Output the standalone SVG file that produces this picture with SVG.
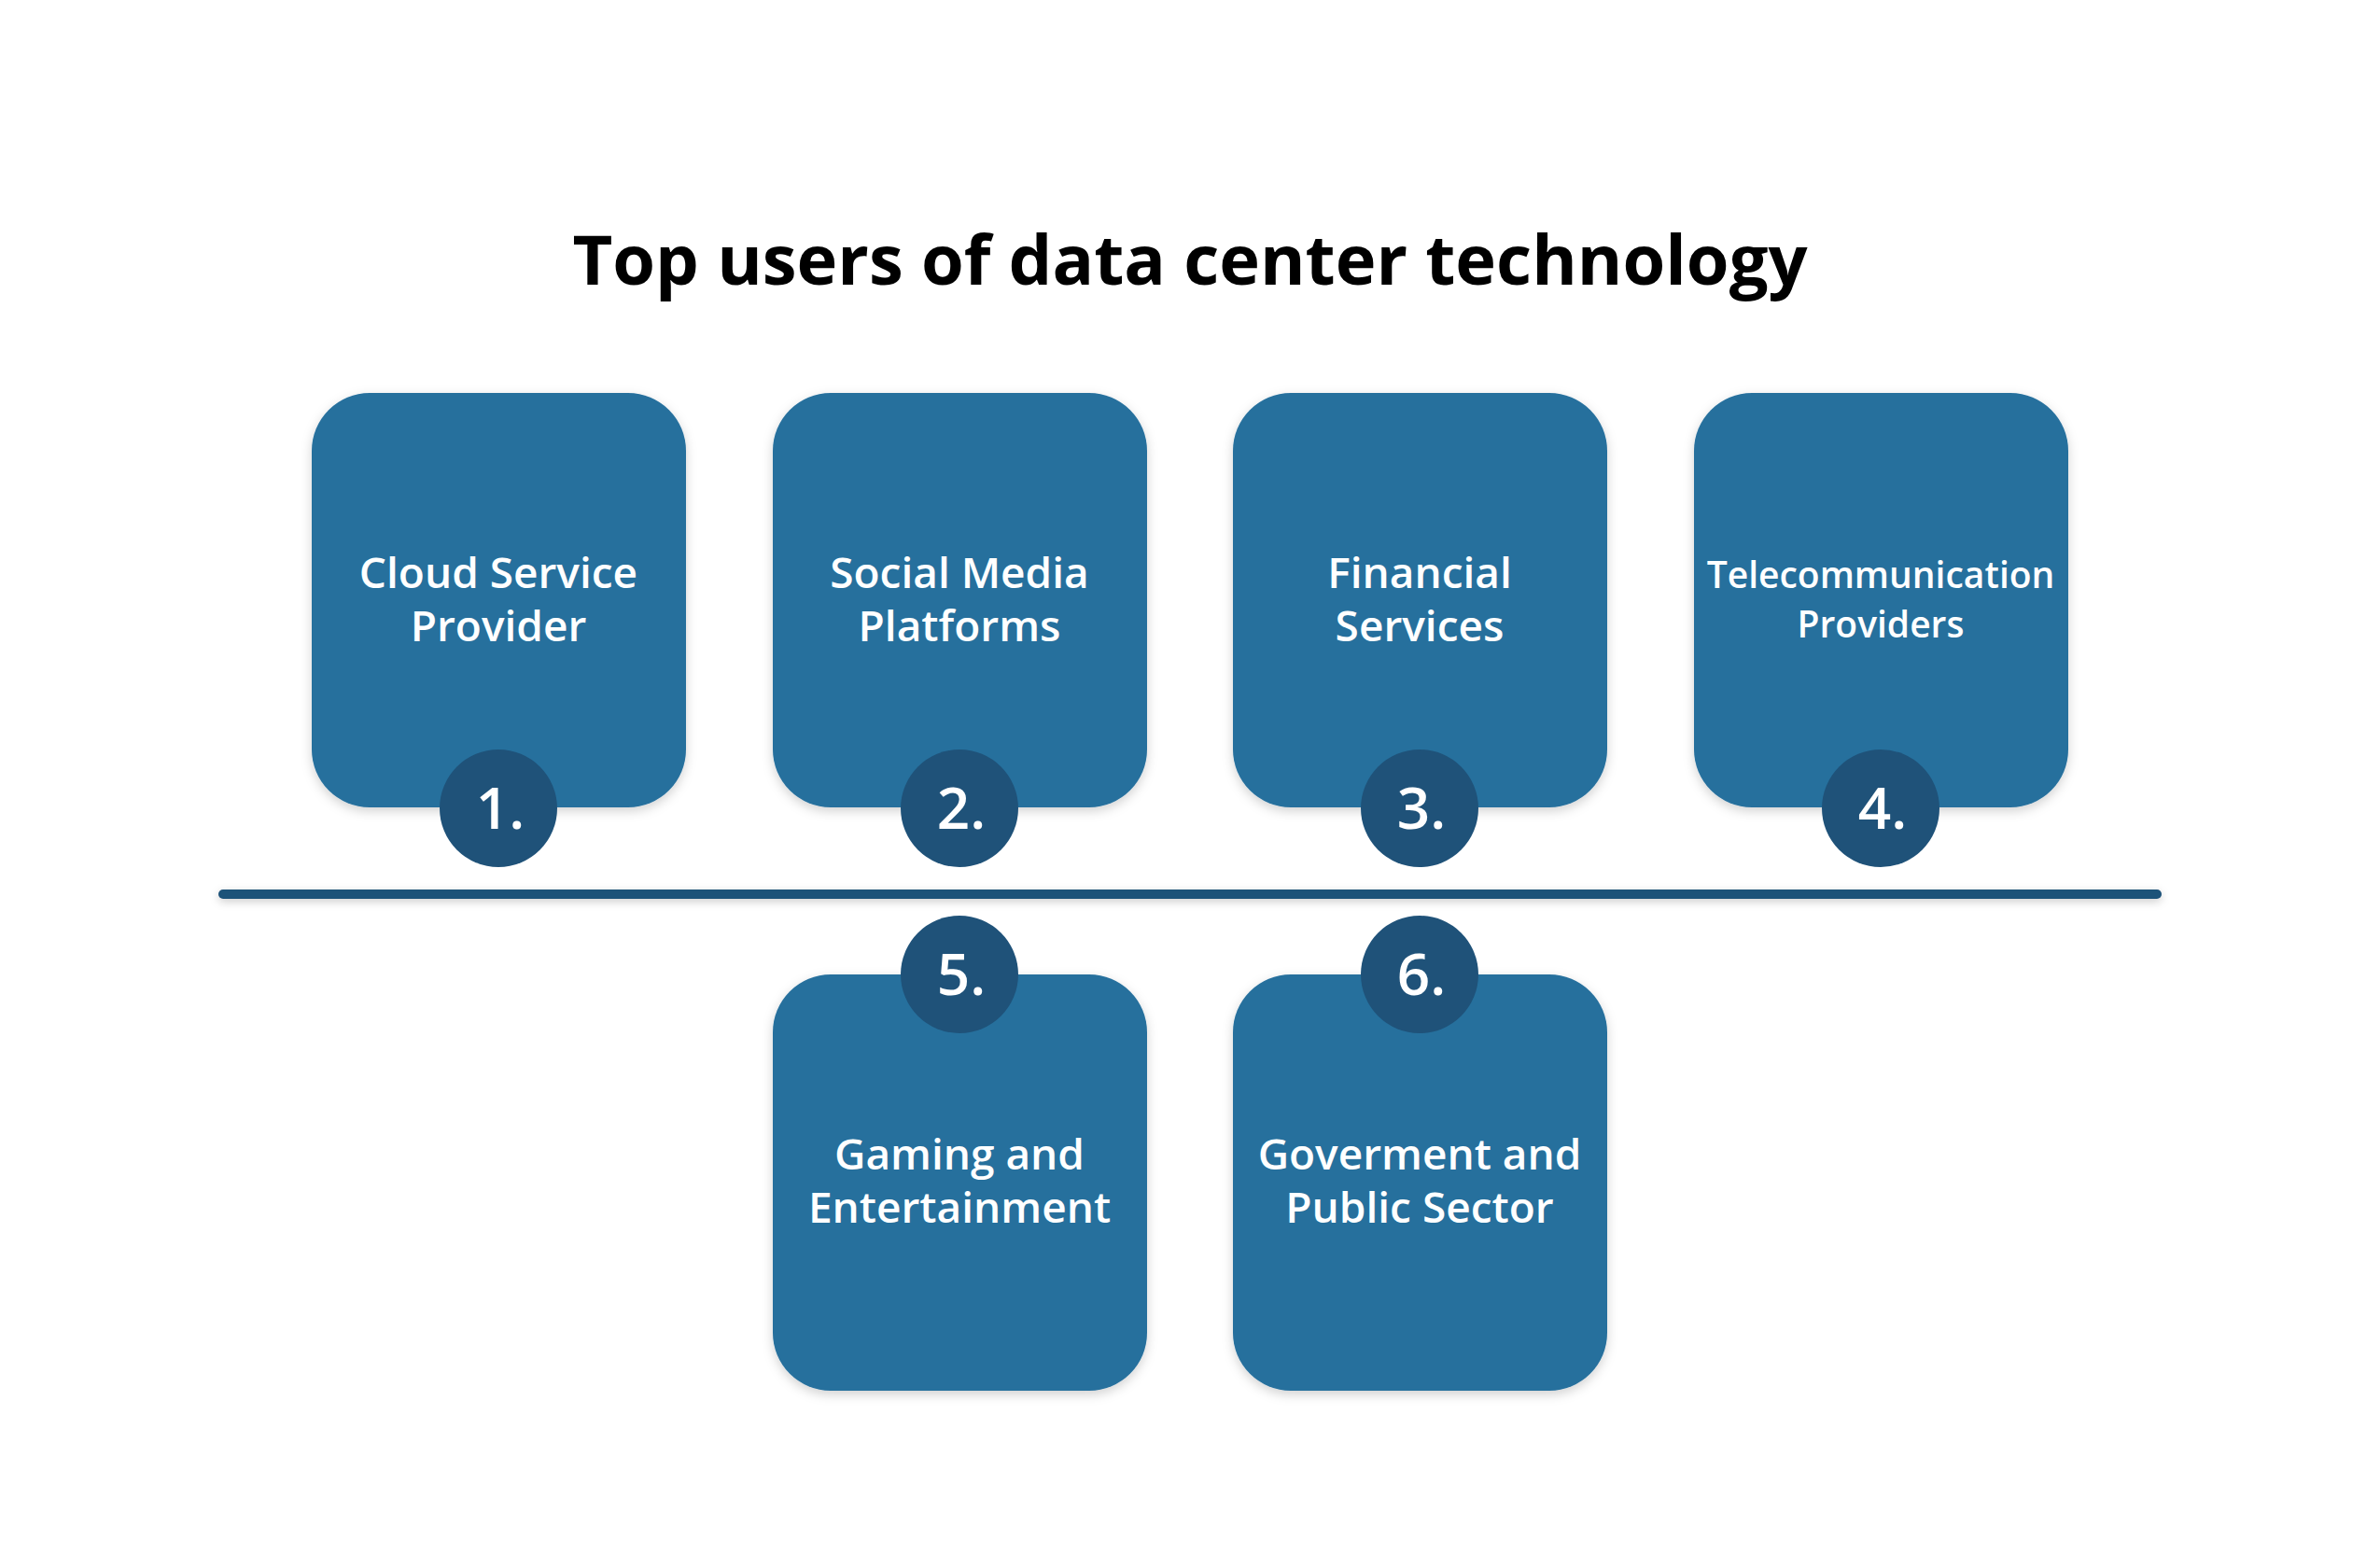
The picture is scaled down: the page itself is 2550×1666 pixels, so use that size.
<svg xmlns="http://www.w3.org/2000/svg" width="2550" height="1666" viewBox="0 0 2550 1666">
<defs>
<filter id="sh" x="-10%" y="-10%" width="120%" height="120%">
<feDropShadow dx="0" dy="4" stdDeviation="6" flood-color="#000" flood-opacity="0.18"/>
</filter>
<filter id="lsh" filterUnits="userSpaceOnUse" x="200" y="930" width="2150" height="60">
<feDropShadow dx="0" dy="3" stdDeviation="5" flood-color="#000" flood-opacity="0.2"/>
</filter>
<style>
.box{fill:#27709D;filter:url(#sh);}
.num{fill:#1F5279;}
.lbl{font-family:"Open Sans","Noto Sans",sans-serif;font-weight:600;fill:#fff;text-anchor:middle;font-size:46px;}
.sm{font-size:39px;}
.n{font-family:"Open Sans","Noto Sans",sans-serif;font-weight:600;fill:#fff;text-anchor:middle;font-size:62px;}
.title{font-family:"Open Sans","Noto Sans",sans-serif;font-weight:700;fill:#000;text-anchor:middle;font-size:74px;}
</style>
</defs>
<rect width="2550" height="1666" fill="#fff"/>
<text class="title" x="1275" y="305">Top users of data center technology</text>
<g id="connectors">
<rect x="234" y="953" width="2082" height="10" rx="5" fill="#1F5279" filter="url(#lsh)"/>
</g>
<g id="node1">
<rect class="box" x="334" y="421" width="401" height="444" rx="62"/>
<text class="lbl" x="534" y="630">Cloud Service</text>
<text class="lbl" x="534" y="687">Provider</text>
<circle class="num" cx="534" cy="866" r="63"/>
<text class="n" x="536" y="888">1.</text>
</g>
<g id="node2">
<rect class="box" x="828" y="421" width="401" height="444" rx="62"/>
<text class="lbl" x="1028" y="630">Social Media</text>
<text class="lbl" x="1028" y="687">Platforms</text>
<circle class="num" cx="1028" cy="866" r="63"/>
<text class="n" x="1030" y="888">2.</text>
</g>
<g id="node3">
<rect class="box" x="1321" y="421" width="401" height="444" rx="62"/>
<text class="lbl" x="1521" y="630">Financial</text>
<text class="lbl" x="1521" y="687">Services</text>
<circle class="num" cx="1521" cy="866" r="63"/>
<text class="n" x="1523" y="888">3.</text>
</g>
<g id="node4">
<rect class="box" x="1815" y="421" width="401" height="444" rx="62"/>
<text class="lbl sm" x="2015" y="630">Telecommunication</text>
<text class="lbl sm" x="2015" y="683">Providers</text>
<circle class="num" cx="2015" cy="866" r="63"/>
<text class="n" x="2017" y="888">4.</text>
</g>
<g id="node5">
<rect class="box" x="828" y="1044" width="401" height="446" rx="62"/>
<text class="lbl" x="1028" y="1253">Gaming and</text>
<text class="lbl" x="1028" y="1310">Entertainment</text>
<circle class="num" cx="1028" cy="1044" r="63"/>
<text class="n" x="1030" y="1066">5.</text>
</g>
<g id="node6">
<rect class="box" x="1321" y="1044" width="401" height="446" rx="62"/>
<text class="lbl" x="1521" y="1253">Goverment and</text>
<text class="lbl" x="1521" y="1310">Public Sector</text>
<circle class="num" cx="1521" cy="1044" r="63"/>
<text class="n" x="1523" y="1066">6.</text>
</g>
</svg>
